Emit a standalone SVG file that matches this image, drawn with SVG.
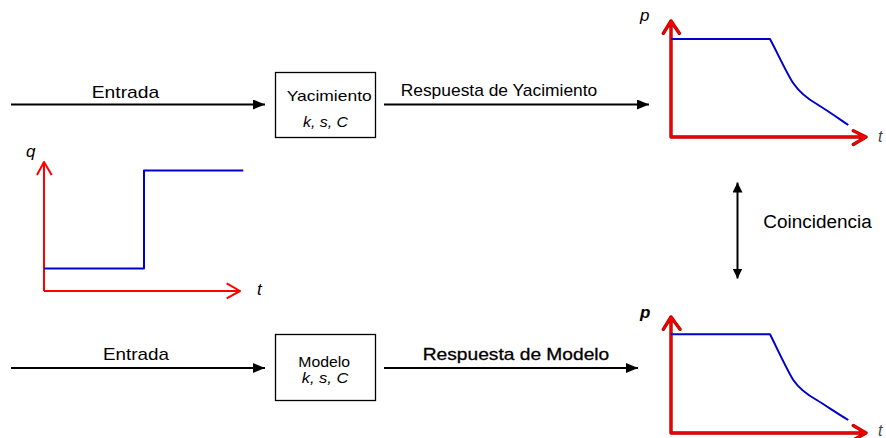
<svg xmlns="http://www.w3.org/2000/svg" width="886" height="438" viewBox="0 0 886 438">
<style>
text{font-family:"Liberation Sans",Arial,sans-serif;fill:#000}
.lbl{font-size:17px}
.box{fill:#fff;stroke:#000;stroke-width:1.3}
.conn{stroke:#000;stroke-width:2;fill:none}
.axR{stroke:#b00000;stroke-width:3.4;fill:none;stroke-linecap:round;stroke-linejoin:round}
.axR2{stroke:#ff0000;stroke-width:1.6;fill:none;stroke-linecap:round;stroke-linejoin:round}
.axQ{stroke:#ff0000;stroke-width:2;fill:none;stroke-linejoin:round}
.curve{stroke:#0000cc;stroke-width:2;fill:none;stroke-linejoin:round}
.it{font-style:italic}
</style>
<defs>
<marker id="ah" markerWidth="12" markerHeight="10" refX="12" refY="5" orient="auto" markerUnits="userSpaceOnUse">
<path d="M0,0 L12,5 L0,10 Z" fill="#000"/>
</marker>
<marker id="ahs" markerWidth="10" markerHeight="10" refX="10" refY="5" orient="auto-start-reverse" markerUnits="userSpaceOnUse">
<path d="M0,0 L10,5 L0,10 Z" fill="#000"/>
</marker>
</defs>

<g id="connectors">
<line class="conn" x1="11" y1="104.5" x2="265" y2="104.5" marker-end="url(#ah)"/>
<line class="conn" x1="384" y1="104.5" x2="649" y2="104.5" marker-end="url(#ah)"/>
<line class="conn" x1="11" y1="368" x2="265" y2="368" marker-end="url(#ah)"/>
<line class="conn" x1="384" y1="368" x2="638" y2="368" marker-end="url(#ah)"/>
<line class="conn" x1="737.5" y1="182.5" x2="737.5" y2="278.5" marker-start="url(#ahs)" marker-end="url(#ahs)"/>
<text class="lbl" x="91.7" y="97.5" textLength="67.6" lengthAdjust="spacingAndGlyphs">Entrada</text>
<text class="lbl" x="400.7" y="96" textLength="196.6" lengthAdjust="spacingAndGlyphs">Respuesta de Yacimiento</text>
<text class="lbl" x="103" y="360" textLength="66" lengthAdjust="spacingAndGlyphs">Entrada</text>
<text class="lbl" x="422.7" y="360" textLength="186.6" lengthAdjust="spacingAndGlyphs" style="stroke:#000;stroke-width:0.3">Respuesta de Modelo</text>
<text x="763.3" y="228.3" style="font-size:18px" textLength="108.4" lengthAdjust="spacingAndGlyphs">Coincidencia</text>
</g>

<g id="yacimiento">
<rect class="box" x="275.5" y="72.5" width="100" height="65"/>
<text x="286.7" y="101" style="font-size:14.5px" textLength="85" lengthAdjust="spacingAndGlyphs">Yacimiento</text>
<text class="it" x="303" y="127" style="font-size:14.5px" textLength="45" lengthAdjust="spacingAndGlyphs">k, s, C</text>
</g>

<g id="modelo">
<rect class="box" x="275.5" y="334.5" width="100" height="66"/>
<text x="298.3" y="366.7" style="font-size:14.5px" textLength="51.7" lengthAdjust="spacingAndGlyphs">Modelo</text>
<text class="it" x="301.7" y="383.3" style="font-size:14.5px" textLength="46.6" lengthAdjust="spacingAndGlyphs">k, s, C</text>
</g>

<g id="grafico-q">
<path class="axQ" d="M44,291 L44,162 M37,175 L44,162 L51.7,175 M44,291 L240,291 M226.7,283.3 L240,291 L226.7,298.3"/>
<path class="curve" d="M44,268.5 L144,268.5 L144,170.5 L243.3,170.5"/>
<text class="it" x="26" y="157" style="font-size:17px">q</text>
<text class="it" x="257" y="295" style="font-size:17px">t</text>
</g>

<g id="grafico-yacimiento">
<path class="axR" d="M671,137 L671,21 M663.3,33.3 L671,21 L679.3,33.3 M671,137 L866,137 M853.3,130.7 L866,137 L853.3,144.5"/>
<path class="axR2" d="M671,137 L671,21 M663.3,33.3 L671,21 L679.3,33.3 M671,137 L866,137 M853.3,130.7 L866,137 L853.3,144.5"/>
<path class="curve" d="M671,39 L770,39 C776,50 787,74 793.3,83.3 C798,90 806,98 816.7,104 C828,111 838,118 848.3,125"/>
<text class="it" x="640" y="21" style="font-size:17px">p</text>
<text class="it" x="878" y="142" style="font-size:16px;fill:#444">t</text>
</g>

<g id="grafico-modelo">
<path class="axR" d="M671,433 L671,317 M663.3,329.3 L671,317 L680,329.3 M671,433 L866,433 M853.3,425.5 L866,433 L853.3,440"/>
<path class="axR2" d="M671,433 L671,317 M663.3,329.3 L671,317 L680,329.3 M671,433 L866,433 M853.3,425.5 L866,433 L853.3,440"/>
<path class="curve" d="M671,334.3 L770,334.3 C776,346 787,370 793.3,380 C798,387 806,394 816.7,400 C828,407 838,414 848.3,420"/>
<text class="it" x="640" y="317.5" style="font-size:17px;font-weight:bold">p</text>
<text class="it" x="878" y="436" style="font-size:16px;fill:#444">t</text>
</g>
</svg>
